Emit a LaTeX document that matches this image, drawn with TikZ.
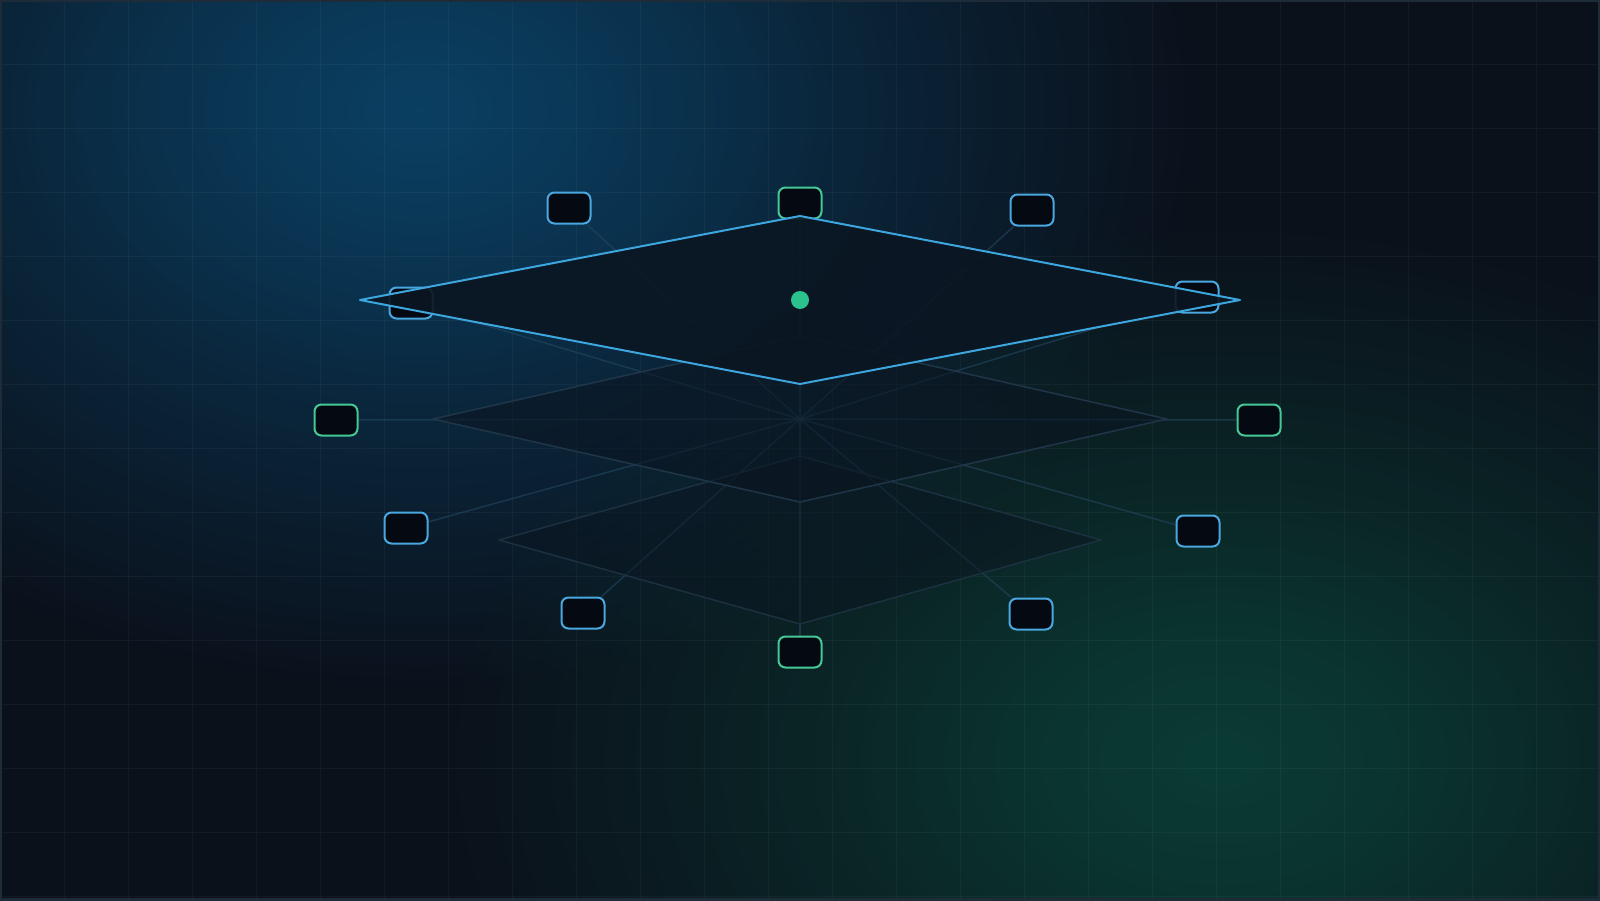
\documentclass[tikz,border=0pt]{standalone}
\usetikzlibrary{fadings}
\definecolor{bgbase}{HTML}{0A111B}
\definecolor{glowblue}{HTML}{0A4266}
\definecolor{glowgreen}{HTML}{0B3F35}
\definecolor{framec}{HTML}{1E2C3A}
\definecolor{nodefill}{HTML}{050A12}
\definecolor{bluec}{HTML}{4AA8E0}
\definecolor{greenc}{HTML}{46C896}
\definecolor{dotc}{HTML}{2CC28D}
\definecolor{topstroke}{HTML}{3EA6DE}
\definecolor{topfill}{HTML}{0B1622}
\definecolor{midfill}{HTML}{0A1420}
\definecolor{midstroke}{HTML}{1F3649}
\definecolor{lowstroke}{HTML}{1B3140}
\definecolor{connc}{HTML}{234760}
\tikzfading[name=glowfade, inner color=transparent!0, outer color=transparent!100]
\pgfdeclarelayer{back}
\pgfdeclarelayer{links}
\pgfdeclarelayer{front}
\pgfsetlayers{back,links,main,front}
\tikzset{
  basebox/.style={rectangle, rounded corners=3.5pt, minimum width=21.5pt, minimum height=15.5pt,
    inner sep=0pt, fill=nodefill, line width=1pt},
  bnode/.style={basebox, draw=bluec},
  gnode/.style={basebox, draw=greenc},
  conn/.style={draw=connc, draw opacity=0.6, line width=0.75pt},
  gridline/.style={draw=white, draw opacity=0.04, line width=0.5pt},
  topplane/.style={draw=topstroke, line width=1pt, fill=topfill, fill opacity=0.9, line join=round},
  midplane/.style={draw=midstroke, line width=0.75pt, fill=midfill, fill opacity=0.55, line join=round},
  lowplane/.style={draw=lowstroke, line width=0.75pt, fill=midfill, fill opacity=0.45, line join=round},
}
\begin{document}
\begin{tikzpicture}[x=0.5pt,y=-0.5pt]
\useasboundingbox (0,0) rectangle (1600,900);
\begin{pgfonlayer}{back}
  \fill[bgbase] (0,0) rectangle (1600,900);
  \fill[glowblue, path fading=glowfade, fill opacity=0.9] (420,110) ellipse (780 and 580);
  \fill[glowblue, path fading=glowfade, fill opacity=0.45] (420,110) ellipse (420 and 300);
  \fill[glowgreen, path fading=glowfade, fill opacity=0.9] (1220,760) ellipse (780 and 540);
  \fill[glowgreen, path fading=glowfade, fill opacity=0.4] (1220,760) ellipse (400 and 280);
  \foreach \i in {1,...,24} \draw[gridline] (\i*64,0) -- (\i*64,900);
  \foreach \j in {1,...,14} \draw[gridline] (0,\j*64) -- (1600,\j*64);
  \draw[framec, line width=2pt] (0,0) rectangle (1600,900);
\end{pgfonlayer}

\coordinate (hub) at (800,419);

\node[gnode] (n1) at (800,203) {};
\node[bnode] (n2) at (569,208) {};
\node[bnode] (n3) at (1032,210) {};
\node[bnode] (n4) at (411,303) {};
\node[bnode] (n5) at (1197,297) {};
\node[gnode] (n6) at (336,420) {};
\node[gnode] (n7) at (1259,420) {};
\node[bnode] (n8) at (406,528) {};
\node[bnode] (n9) at (1198,531) {};
\node[bnode] (n10) at (583,613) {};
\node[bnode] (n11) at (1031,614) {};
\node[gnode] (n12) at (800,652) {};

\begin{pgfonlayer}{links}
  \foreach \n in {n1,n2,n3,n4,n5,n6,n7,n8,n9,n10,n11,n12}
    \draw[conn] (\n) -- (hub);
\end{pgfonlayer}

\begin{pgfonlayer}{front}
  \path[lowplane] (800,456) -- (1101,540) -- (800,624) -- (499,540) -- cycle;
  \path[midplane] (800,336) -- (1167,419) -- (800,502) -- (433,419) -- cycle;
  \path[topplane] (800,216) -- (1240,300) -- (800,384) -- (360,300) -- cycle;
  \fill[dotc] (800,300) circle (9);
\end{pgfonlayer}
\end{tikzpicture}
\end{document}
